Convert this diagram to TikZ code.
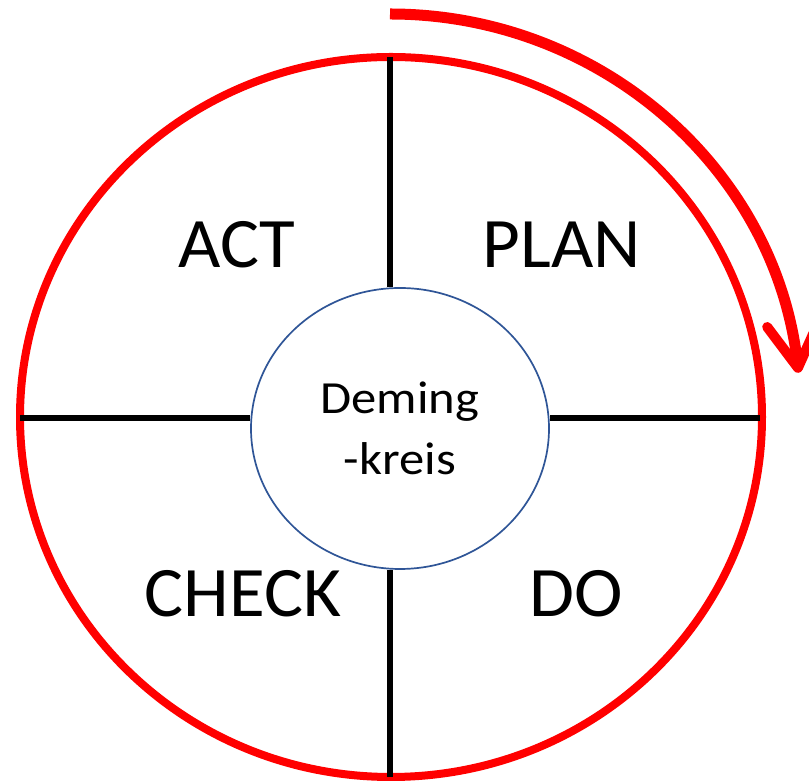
\documentclass[tikz,border=0pt]{standalone}
\usepackage{fontspec}
\setmainfont{Carlito}
\newfontfamily\widefont[FakeStretch=1.1]{Carlito}
\newfontfamily\labelfont[FakeStretch=1.03]{Carlito}
\usetikzlibrary{arrows.meta,shapes.geometric}
\definecolor{ringred}{HTML}{FF0000}
\definecolor{innerblue}{HTML}{2F5597}
\begin{document}
\begin{tikzpicture}[x=1pt,y=1pt,
  ring/.style={draw=ringred,line width=8pt},
  divider/.style={draw=black,line width=5.7pt},
  phase/.style={font=\labelfont\fontsize{71}{85}\selectfont,inner sep=0pt},
  cyclearrow/.style={draw=ringred,line width=11pt,-{Straight Barb[length=44pt,width=52pt,line width=10pt,round]}}]
\useasboundingbox (0,0) rectangle (809,781);
\fill[white] (0,0) rectangle (809,781);
% outer red ring
\draw[ring] (391,364) ellipse [x radius=371, y radius=360];
% inner circle node
\node[ellipse,draw=innerblue,line width=1.7pt,minimum width=298pt,minimum height=281pt,inner sep=0pt,
      align=center,font=\widefont\fontsize{46}{61}\selectfont] (inner) at (400,352.5) {Deming\\-kreis};
% ring end points of the dividers
\coordinate (top) at (390,724);
\coordinate (bot) at (390,4);
\coordinate (lft) at (20,363);
\coordinate (rgt) at (760,363);
\draw[divider] (top) -- (top |- inner.north);
\draw[divider] (bot) -- (bot |- inner.south);
\draw[divider] (lft) -- (lft -| inner.west);
\draw[divider] (rgt) -- (rgt -| inner.east);
% labels
\node[phase] (act) at (237,536) {ACT};
\node[phase] (plan) at (562,536) {PLAN};
\node[phase] (check) at (243,187) {CHECK};
\node[phase] (do) at (576,187) {DO};
% cycle arrow
\coordinate (arrstart) at (390,767);
\draw[cyclearrow] (arrstart) arc [start angle=90, end angle=6.3, x radius=411, y radius=403];
\end{tikzpicture}
\end{document}
